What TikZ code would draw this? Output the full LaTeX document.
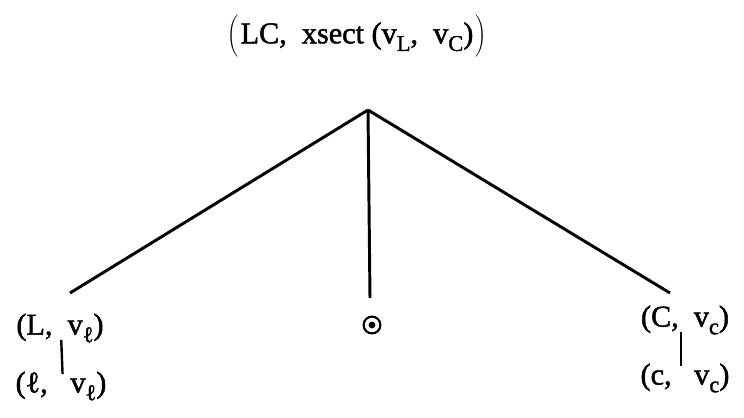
\documentclass[tikz,border=0pt]{standalone}
\usepackage{fontspec}
\setmainfont{Liberation Serif}
\newfontfamily\treefont{Liberation Serif}[FakeBold=1.5]
\usepackage{tikz}
\usetikzlibrary{positioning}
\tikzset{>=stealth}
\newcommand{\lowsub}[1]{\raisebox{-0.55ex}{\fontsize{16}{16}\selectfont #1}}
\newcommand{\tallstrut}{\rule[-9pt]{0pt}{28pt}}

\begin{document}
\begin{tikzpicture}[x=0.025cm, y=-0.025cm,
				lbl/.style={inner sep=1pt, font=\fontsize{21.5}{24}\selectfont\treefont},
				edge/.style={line width=2.1pt, draw=black},
				bar/.style={line width=1.7pt, draw=black, shorten <=-3pt, shorten >=-3pt},
				dotnode/.style={circle, draw=black, line width=1.5pt, minimum size=0.42cm, inner sep=0pt}]
				
				\useasboundingbox (0,0) rectangle (744,418);
				
				\node[lbl] (root) at (357,36) {$\left(\tallstrut\right.$LC,\ \ xsect (v\lowsub{L},\ \ v\lowsub{C})$\left.\tallstrut\right)$};
				\coordinate (apex) at (368,110);
				
				\node[lbl] (lft) at (60,328) {(L,\ \ v\lowsub{ℓ})};
				\node[lbl] (lftb) at (61,386) {(ℓ,\ \ \ v\lowsub{ℓ})};
				\node[dotnode] (mid) at (372,325) {};
				\node[lbl] (rgt) at (685,320) {(C,\ \ v\lowsub{c})};
				\node[lbl] (rgtb) at (685,378) {(c,\ \ \ v\lowsub{c})};
				
				\coordinate (lend) at (70,293);
				\coordinate (mend) at (370,298);
				\coordinate (rend) at (670,293);
				
				\draw[edge] (apex) -- (lend);
				\draw[edge] (apex) -- (mend);
				\draw[edge] (apex) -- (rend);
				\fill (mid.center) circle (0.085cm);
				
				\draw[bar] ([xshift=1pt]lft.south) -- ([xshift=1pt]lftb.north);
				\draw[bar] ([xshift=-3pt]rgt.south) -- ([xshift=-3pt]rgtb.north);
				
			\end{tikzpicture}
\end{document}
